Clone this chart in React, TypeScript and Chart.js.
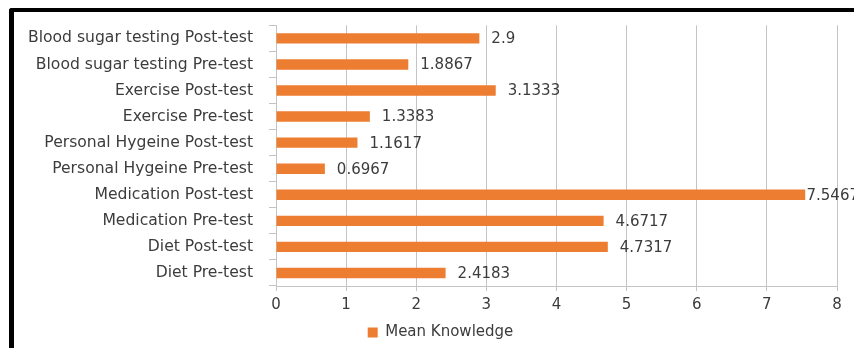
import React, { useEffect, useRef } from "react";
import { Chart, registerables } from "chart.js";

Chart.register(...registerables);

// Categories listed top to bottom as they appear on the vertical axis
const categories = [
  "Blood sugar testing Post-test",
  "Blood sugar testing Pre-test",
  "Exercise Post-test",
  "Exercise Pre-test",
  "Personal Hygeine Post-test",
  "Personal Hygeine Pre-test",
  "Medication Post-test",
  "Medication Pre-test",
  "Diet Post-test",
  "Diet Pre-test",
];

const meanKnowledge = [2.9, 1.8867, 3.1333, 1.3383, 1.1617, 0.6967, 7.5467, 4.6717, 4.7317, 2.4183];

const seriesName = "Mean Knowledge";
const xMin = 0;
const xMax = 8;
const xStep = 1;

const FONT_FAMILY = "'DejaVu Sans', sans-serif";
const FONT_SIZE = 15;
const TEXT_COLOR = "#3c3c3c";
const BAR_COLOR = "#ED7D31";
const GRID_COLOR = "#c4c4c4";

// Writes each bar's value just past its end, kept inside the visible frame
const valueLabelPlugin = {
  id: "valueLabels",
  afterLayout(chart: any) {
    // nudge the legend so it sits centred under the whole frame
    const lg = chart.legend;
    if (lg) {
      lg.left += 22;
      lg.right += 22;
      lg.top += 2;
      lg.bottom += 2;
    }
  },
  afterDatasetsDraw(chart: any) {
    const ctx = chart.ctx;
    const meta = chart.getDatasetMeta(0);
    ctx.save();
    ctx.font = `${FONT_SIZE}px ${FONT_FAMILY}`;
    ctx.fillStyle = TEXT_COLOR;
    ctx.textAlign = "left";
    ctx.textBaseline = "middle";
    meta.data.forEach((bar: any, i: number) => {
      const text = String(meanKnowledge[i]);
      const w = ctx.measureText(text).width;
      const x = Math.min(bar.x + 12, 859 - w);
      ctx.fillText(text, x, bar.y + 1);
    });
    ctx.restore();
  },
};

export default function App() {
  const canvasRef = useRef<HTMLCanvasElement | null>(null);

  useEffect(() => {
    document.body.style.margin = "0";
    document.body.style.overflow = "hidden";
    const canvas = canvasRef.current;
    if (!canvas) return;

    const chart = new Chart(canvas, {
      type: "bar",
      data: {
        labels: categories,
        datasets: [
          {
            label: seriesName,
            data: meanKnowledge,
            backgroundColor: BAR_COLOR,
            borderWidth: 0,
            categoryPercentage: 1,
            barPercentage: 0.4,
          },
        ],
      },
      options: {
        indexAxis: "y",
        animation: false,
        responsive: true,
        maintainAspectRatio: false,
        layout: { padding: { top: 25, right: 45, bottom: 0, left: 0 } },
        plugins: {
          tooltip: { enabled: false },
          legend: {
            display: true,
            position: "bottom",
            labels: {
              boxWidth: 10,
              boxHeight: 10,
              padding: 10,
              color: TEXT_COLOR,
              font: { family: FONT_FAMILY, size: FONT_SIZE },
            },
          },
        },
        scales: {
          x: {
            min: xMin,
            max: xMax,
            afterFit(scale: any) {
              scale.height = 27;
            },
            ticks: {
              stepSize: xStep,
              padding: 5,
              color: TEXT_COLOR,
              font: { family: FONT_FAMILY, size: FONT_SIZE },
            },
            grid: {
              color: GRID_COLOR,
              lineWidth: 1,
              drawTicks: true,
              tickLength: 5,
            },
            border: { display: true, color: GRID_COLOR },
          },
          y: {
            afterFit(scale: any) {
              scale.width = 276;
            },
            ticks: {
              padding: 16,
              color: TEXT_COLOR,
              font: { family: FONT_FAMILY, size: 15.6 },
            },
            grid: {
              offset: true,
              drawOnChartArea: false,
              drawTicks: true,
              tickLength: 7,
              color: GRID_COLOR,
            },
            border: { display: true, color: GRID_COLOR },
          },
        },
      },
      plugins: [valueLabelPlugin],
    });

    return () => chart.destroy();
  }, []);

  return (
    <div
      style={{
        position: "absolute",
        left: 0,
        top: 0,
        width: 854,
        height: 348,
        overflow: "hidden",
        background: "#ffffff",
      }}
    >
      <div
        style={{
          position: "absolute",
          left: 9,
          top: 8,
          width: 900,
          height: 400,
          borderLeft: "5px solid #000",
          borderTop: "4px solid #000",
          borderTopLeftRadius: 3,
        }}
      />
      <div style={{ position: "absolute", left: 0, top: 0, width: 882, height: 348 }}>
        <canvas ref={canvasRef} />
      </div>
    </div>
  );
}
